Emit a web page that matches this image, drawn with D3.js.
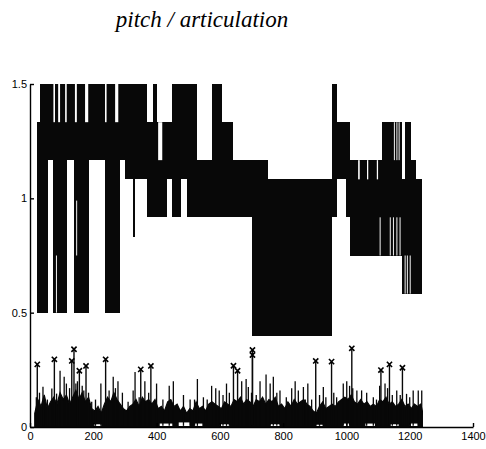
<!DOCTYPE html>
<html lang="en">
<head>
<meta charset="UTF-8">
<script src="https://d3js.org/d3.v7.min.js"></script>
<title>pitch / articulation</title>
<style>
  body { margin: 0; background: #fff; }
  .axis text { font-family: "Liberation Sans", Arial, sans-serif; font-size: 11px; fill: #000; }
  .axis path, .axis line { stroke: #000; stroke-width: 1.4px; }
</style>
</head>
<body>
<script>
// pitch track: the line jumps so fast between levels that it reads as solid bands
const bandStart = [22, 32, 57, 73, 117, 139, 186, 237, 284, 300, 326, 370, 389, 401, 433, 449, 477, 496, 528, 575, 607, 640, 702, 752, 954, 970, 999, 1011, 1113, 1176, 1186, 1204, 1220];
const bandEnd   = [32, 57, 73, 117, 139, 186, 237, 284, 300, 370, 332, 389, 401, 433, 449, 477, 496, 528, 575, 607, 640, 702, 752, 954, 970, 999, 1011, 1113, 1176, 1186, 1204, 1220, 1239];
const bandLow   = [0.5, 0.5, 1.167, 0.5, 1.167, 0.5, 1.167, 0.5, 1.167, 1.083, 0.833, 0.917, 0.917, 0.917, 1.083, 0.917, 1.083, 0.917, 0.917, 0.917, 0.917, 0.917, 0.4, 0.4, 0.917, 1.083, 0.917, 0.75, 0.75, 0.583, 0.583, 0.583, 0.583];
const bandHigh  = [1.333, 1.5, 1.5, 1.5, 1.5, 1.5, 1.5, 1.5, 1.5, 1.5, 1.083, 1.333, 1.5, 1.333, 1.333, 1.5, 1.5, 1.5, 1.167, 1.5, 1.333, 1.167, 1.167, 1.083, 1.5, 1.333, 1.333, 1.167, 1.333, 1.083, 1.333, 1.167, 1.083];

// white slits inside the bands
const gapStart = [74, 89, 111, 142, 174, 237, 269, 405, 82, 146, 1037, 1065, 1096, 1105, 1137, 1147, 1158, 1168, 1184, 1191, 1200, 1150, 1158, 1165];
const gapEnd   = [79, 95, 116, 148, 184, 242, 279, 418, 85, 149, 1042, 1069, 1100, 1108, 1140, 1150, 1161, 1171, 1187, 1194, 1203, 1153, 1161, 1168];
const gapLow   = [1.333, 1.333, 1.333, 1.333, 1.333, 1.333, 1.333, 1.167, 0.5, 0.75, 1.083, 1.083, 1.083, 0.75, 0.75, 0.75, 0.75, 0.75, 0.583, 0.583, 0.583, 1.167, 1.167, 1.167];
const gapHigh  = [1.5, 1.5, 1.5, 1.5, 1.5, 1.5, 1.5, 1.333, 0.75, 0.99, 1.167, 1.167, 1.167, 0.917, 0.917, 0.917, 0.917, 0.917, 0.75, 0.75, 0.75, 1.333, 1.333, 1.333];

// articulation track: top edge of the dense body, every 10 frames
const artFrame = [15, 25, 35, 45, 55, 65, 75, 85, 95, 105, 115, 125, 135, 145, 155, 165, 175, 185, 195, 205, 215, 225, 235, 245, 255, 265, 275, 285, 295, 305, 315, 325, 335, 345, 355, 365, 375, 385, 395, 405, 415, 425, 435, 445, 455, 465, 475, 485, 495, 505, 515, 525, 535, 545, 555, 565, 575, 585, 595, 605, 615, 625, 635, 645, 655, 665, 675, 685, 695, 705, 715, 725, 735, 745, 755, 765, 775, 785, 795, 805, 815, 825, 835, 845, 855, 865, 875, 885, 895, 905, 915, 925, 935, 945, 955, 965, 975, 985, 995, 1005, 1015, 1025, 1035, 1045, 1055, 1065, 1075, 1085, 1095, 1105, 1115, 1125, 1135, 1145, 1155, 1165, 1175, 1185, 1195, 1205, 1215, 1225, 1235, 1240];
const artHigh  = [0.06, 0.12, 0.09, 0.14, 0.08, 0.11, 0.13, 0.10, 0.15, 0.12, 0.14, 0.10, 0.13, 0.16, 0.12, 0.15, 0.11, 0.13, 0.08, 0.07, 0.09, 0.06, 0.10, 0.13, 0.11, 0.15, 0.12, 0.10, 0.08, 0.07, 0.09, 0.10, 0.12, 0.09, 0.13, 0.11, 0.12, 0.10, 0.12, 0.08, 0.09, 0.07, 0.11, 0.12, 0.09, 0.10, 0.07, 0.09, 0.06, 0.08, 0.07, 0.11, 0.08, 0.09, 0.07, 0.10, 0.11, 0.10, 0.09, 0.08, 0.11, 0.10, 0.09, 0.12, 0.11, 0.13, 0.10, 0.12, 0.11, 0.09, 0.12, 0.11, 0.13, 0.10, 0.12, 0.11, 0.13, 0.09, 0.10, 0.08, 0.11, 0.09, 0.12, 0.10, 0.11, 0.12, 0.10, 0.09, 0.07, 0.06, 0.09, 0.11, 0.08, 0.09, 0.10, 0.09, 0.11, 0.12, 0.13, 0.12, 0.14, 0.11, 0.10, 0.12, 0.10, 0.11, 0.09, 0.10, 0.09, 0.12, 0.11, 0.13, 0.10, 0.11, 0.09, 0.10, 0.12, 0.09, 0.10, 0.08, 0.10, 0.09, 0.10, 0.07];
// short white gaps between body and baseline (frame start, frame end, height)
const holeStart = [200, 410, 470, 520, 600, 760, 905, 990, 1060, 1140, 1200];
const holeEnd   = [225, 450, 505, 545, 630, 790, 925, 1010, 1090, 1165, 1225];
const holeValue = [0.012, 0.015, 0.02, 0.015, 0.012, 0.012, 0.01, 0.015, 0.015, 0.012, 0.015];

// single spikes sticking out of the body
const spikeFrame = [20, 30, 41, 43, 48, 55, 69, 84, 95, 108, 115, 125, 145, 150, 165, 170, 185, 195, 207, 224, 250, 263, 270, 278, 292, 310, 326, 332, 345, 363, 375, 400, 420, 440, 453, 485, 506, 520, 529, 548, 560, 574, 587, 598, 610, 621, 630, 669, 683, 690, 700, 715, 727, 746, 759, 769, 780, 790, 810, 827, 838, 848, 864, 870, 878, 890, 915, 927, 935, 960, 969, 990, 1001, 1010, 1020, 1033, 1048, 1064, 1085, 1095, 1105, 1122, 1130, 1145, 1159, 1170, 1190, 1200, 1211, 1227, 1238];
const spikeValue = [0.13, 0.15, 0.176, 0.127, 0.10, 0.12, 0.168, 0.146, 0.246, 0.22, 0.19, 0.17, 0.19, 0.2, 0.18, 0.16, 0.15, 0.11, 0.12, 0.19, 0.16, 0.22, 0.17, 0.2, 0.15, 0.11, 0.16, 0.24, 0.13, 0.2, 0.15, 0.19, 0.12, 0.18, 0.2, 0.14, 0.12, 0.12, 0.21, 0.13, 0.12, 0.18, 0.17, 0.16, 0.14, 0.19, 0.15, 0.2, 0.21, 0.175, 0.15, 0.14, 0.2, 0.23, 0.19, 0.22, 0.15, 0.16, 0.13, 0.17, 0.2, 0.16, 0.175, 0.12, 0.19, 0.12, 0.14, 0.175, 0.13, 0.15, 0.13, 0.19, 0.2, 0.18, 0.17, 0.16, 0.16, 0.15, 0.13, 0.12, 0.18, 0.19, 0.17, 0.14, 0.16, 0.14, 0.145, 0.13, 0.16, 0.16, 0.16];

// marked peaks (x)
const peakFrame = [23, 77, 132, 139, 156, 177, 239, 350, 382, 643, 656, 703, 703, 903, 953, 1017, 1109, 1136, 1177];
const peakValue = [0.274, 0.296, 0.289, 0.340, 0.246, 0.267, 0.296, 0.252, 0.267, 0.268, 0.246, 0.337, 0.315, 0.289, 0.286, 0.344, 0.249, 0.274, 0.259];

const xTicks = [0, 200, 400, 600, 800, 1000, 1200, 1400];
const yTicks = [0, 0.5, 1, 1.5];

const w = 486;
const h = 449;

const svg = d3.select("body").append("svg")
  .attr("width", w)
  .attr("height", h);

const x = d3.scaleLinear().domain([0, 1400]).range([30, 473]);
const y = d3.scaleLinear().domain([0, 1.5]).range([427, 84]);

// title
svg.append("text")
  .attr("x", 202)
  .attr("y", 27)
  .attr("text-anchor", "middle")
  .style("font-family", "'Liberation Serif', 'Times New Roman', serif")
  .style("font-style", "italic")
  .style("font-size", "23px")
  .text("pitch / articulation");

// pitch bands
const bands = bandStart.map((s, i) => ({s: s, e: bandEnd[i], lo: bandLow[i], hi: bandHigh[i]}));
svg.append("g").attr("shape-rendering", "crispEdges").selectAll("rect")
  .data(bands)
  .join("rect")
  .attr("x", d => x(d.s))
  .attr("width", d => x(d.e) - x(d.s))
  .attr("y", d => y(d.hi))
  .attr("height", d => y(d.lo) - y(d.hi))
  .attr("fill", "#080808");

const gaps = gapStart.map((s, i) => ({s: s, e: gapEnd[i], lo: gapLow[i], hi: gapHigh[i]}));
svg.append("g").selectAll("rect")
  .data(gaps)
  .join("rect")
  .attr("x", d => x(d.s))
  .attr("width", d => Math.max(0.8, x(d.e) - x(d.s)))
  .attr("y", d => y(d.hi))
  .attr("height", d => y(d.lo) - y(d.hi))
  .attr("fill", "#fff");

// articulation body
const art = artFrame.map((f, i) => ({f: f, v: artHigh[i]}));
svg.append("path")
  .datum(art)
  .attr("d", d3.area().x(d => x(d.f)).y0(y(0)).y1(d => y(d.v)))
  .attr("fill", "#080808")
  .attr("stroke", "#080808")
  .attr("stroke-width", 1.2)
  .attr("stroke-linejoin", "miter");

svg.append("g").selectAll("rect")
  .data(holeStart.map((s, i) => ({s: s, e: holeEnd[i], v: holeValue[i]})))
  .join("rect")
  .attr("x", d => x(d.s))
  .attr("width", d => x(d.e) - x(d.s))
  .attr("y", d => y(d.v))
  .attr("height", d => y(0) - 1 - y(d.v))
  .attr("fill", "#fff");

svg.append("g").selectAll("line")
  .data(spikeFrame.map((f, i) => ({f: f, v: spikeValue[i]})))
  .join("line")
  .attr("x1", d => x(d.f)).attr("x2", d => x(d.f))
  .attr("y1", y(0.005)).attr("y2", d => y(d.v))
  .attr("stroke", "#080808")
  .attr("stroke-width", 1.3);

const peaks = peakFrame.map((f, i) => ({f: f, v: peakValue[i]}));
svg.append("g").selectAll("line")
  .data(peaks)
  .join("line")
  .attr("x1", d => x(d.f)).attr("x2", d => x(d.f))
  .attr("y1", y(0.005)).attr("y2", d => y(d.v))
  .attr("stroke", "#080808")
  .attr("stroke-width", 1.4);

svg.append("g").selectAll("path")
  .data(peaks)
  .join("path")
  .attr("d", d => {
    const cx = x(d.f), cy = y(d.v), r = 2.6;
    return `M${cx - r},${cy - r}L${cx + r},${cy + r}M${cx - r},${cy + r}L${cx + r},${cy - r}`;
  })
  .attr("stroke", "#000")
  .attr("stroke-width", 1.6)
  .attr("fill", "none");

// axes (box off, ticks inward)
svg.append("g")
  .attr("class", "axis")
  .attr("transform", "translate(0,427)")
  .call(d3.axisBottom(x).tickValues(xTicks).tickSizeInner(-4).tickSizeOuter(0).tickPadding(5).tickFormat(d => String(d)));

svg.append("g")
  .attr("class", "axis")
  .attr("transform", "translate(30,0)")
  .call(d3.axisLeft(y).tickValues(yTicks).tickSizeInner(-4).tickSizeOuter(0).tickPadding(3).tickFormat(d => String(d)));
</script>
</body>
</html>
